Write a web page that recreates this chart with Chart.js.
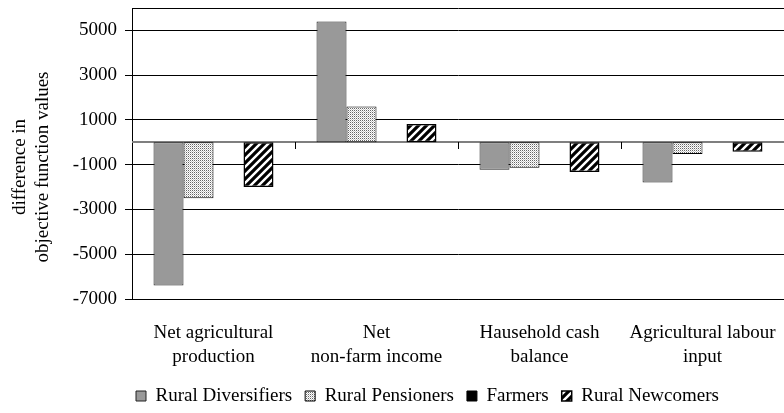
<!DOCTYPE html>
<html>
<head>
<meta charset="utf-8">
<script src="https://cdn.jsdelivr.net/npm/chart.js@4/dist/chart.umd.min.js"></script>
<style>
  html, body { margin: 0; padding: 0; background: #fff; }
  #wrap { width: 784px; height: 413px; position: relative; }
</style>
</head>
<body>
<div id="wrap"><canvas id="c" width="784" height="413"></canvas></div>
<script>
// ---- data ----
const categories = [
  ["Net agricultural", "production"],
  ["Net", "non-farm income"],
  ["Hausehold cash", "balance"],
  ["Agricultural labour", "input"]
];
const seriesNames = ["Rural Diversifiers", "Rural Pensioners", "Farmers", "Rural Newcomers"];
const ruralDiversifiers = [-6400, 5400, -1230, -1790];
const ruralPensioners   = [-2500, 1600, -1140, -520];
const farmers           = [0, 0, 0, 0];
const ruralNewcomers    = [-2000, 820, -1330, -420];
const yTicks = [-7000, -5000, -3000, -1000, 1000, 3000, 5000];
const yMin = -7000, yMax = 6000;
const yTitle = ["difference in", "objective function values"];

const FONT = "'Liberation Serif', 'Times New Roman', serif";
Chart.defaults.font.family = FONT;
Chart.defaults.font.size = 19;
Chart.defaults.color = '#000';

const canvas = document.getElementById('c');
const ctx = canvas.getContext('2d');

function dotPattern() {
  const c = document.createElement('canvas');
  c.width = 2; c.height = 2;
  const g = c.getContext('2d');
  g.fillStyle = '#ffffff'; g.fillRect(0, 0, 2, 2);
  g.fillStyle = '#666666'; g.fillRect(0, 0, 1, 1);
  g.fillStyle = '#c8c8c8'; g.fillRect(1, 1, 1, 1);
  return ctx.createPattern(c, 'repeat');
}
function stripePattern() {
  const s = 8;
  const c = document.createElement('canvas');
  c.width = s; c.height = s;
  const g = c.getContext('2d');
  g.fillStyle = '#ffffff'; g.fillRect(0, 0, s, s);
  g.strokeStyle = '#000'; g.lineWidth = 3.2;
  g.beginPath();
  g.moveTo(-s / 2, s / 2); g.lineTo(s / 2, -s / 2);
  g.moveTo(0, s); g.lineTo(s, 0);
  g.moveTo(s / 2, s * 1.5); g.lineTo(s * 1.5, s / 2);
  g.stroke();
  return ctx.createPattern(c, 'repeat');
}

const decor = {
  id: 'decor',
  afterLayout(chart) {
    const lg = chart.legend;
    if (lg && lg.lineWidths) {
      const pad = lg.options.labels.padding;
      const W = lg.lineWidths[0];
      const curX = (lg.left + pad + lg.right - W) / 2;
      const dx = 136 - curX;
      lg.left += dx; lg.right += dx;
      const h = lg.height;
      lg.top = 396 - pad - 9.5;
      lg.bottom = lg.top + h;
    }
  },
  beforeDatasetsDraw(chart) {
    const {ctx, chartArea, scales} = chart;
    const y0 = Math.round(scales.y.getPixelForValue(0));
    ctx.save();
    ctx.strokeStyle = '#7f7f7f';
    ctx.lineWidth = 2;
    ctx.beginPath();
    ctx.moveTo(chartArea.left, y0);
    ctx.lineTo(chartArea.right, y0);
    ctx.stroke();
    ctx.strokeStyle = '#000';
    ctx.lineWidth = 1;
    ctx.beginPath();
    for (let i = 0; i < categories.length - 1; i++) {
      const xb = Math.round((scales.x.getPixelForValue(i) + scales.x.getPixelForValue(i + 1)) / 2) + 0.5;
      ctx.moveTo(xb, y0);
      ctx.lineTo(xb, y0 + 7);
    }
    ctx.stroke();
    ctx.restore();
  },
  afterDraw(chart) {
    const {ctx} = chart;
    ctx.save();
    ctx.fillStyle = '#000';
    ctx.font = "19px " + FONT;
    ctx.textAlign = 'center';
    ctx.textBaseline = 'alphabetic';
    const cy = 167;
    const baselines = [25, 48];
    yTitle.forEach((t, i) => {
      ctx.save();
      ctx.translate(baselines[i], cy);
      ctx.rotate(-Math.PI / 2);
      ctx.fillText(t, 0, 0);
      ctx.restore();
    });
    ctx.restore();
  }
};

new Chart(canvas, {
  type: 'bar',
  data: {
    labels: categories,
    datasets: [
      { label: seriesNames[0], data: ruralDiversifiers, backgroundColor: '#999999', borderColor: '#222', borderWidth: 1, borderSkipped: false },
      { label: seriesNames[1], data: ruralPensioners, backgroundColor: dotPattern(), borderColor: '#000', borderWidth: 1, borderSkipped: false },
      { label: seriesNames[2], data: farmers, backgroundColor: '#000000', borderColor: '#000', borderWidth: 1, borderSkipped: false },
      { label: seriesNames[3], data: ruralNewcomers, backgroundColor: stripePattern(), borderColor: '#000', borderWidth: 1.5, borderSkipped: false }
    ]
  },
  options: {
    responsive: false,
    animation: false,
    devicePixelRatio: 1,
    layout: { padding: { top: 8, left: 0, right: 0, bottom: 0 } },
    datasets: { bar: { categoryPercentage: 0.736, barPercentage: 1.0 } },
    plugins: {
      tooltip: { enabled: false },
      legend: {
        position: 'bottom',
        labels: {
          boxWidth: 10,
          boxHeight: 10,
          padding: 13,
          color: '#000',
          font: { size: 19, family: FONT }
        }
      }
    },
    scales: {
      x: {
        grid: { display: false, drawTicks: false },
        border: { display: true, color: '#000', width: 1 },
        ticks: {
          padding: 22,
          maxRotation: 0,
          autoSkip: false,
          color: '#000',
          font: { size: 19, family: FONT, lineHeight: 1.25 }
        },
        afterFit(scale) {
          const lh = (scale.chart.legend && scale.chart.legend.height) || 0;
          scale.height = Math.max(0, 413 - 299 - lh);
          scale.paddingLeft = 0; scale.paddingRight = 0;
        }
      },
      y: {
        min: yMin,
        max: yMax,
        afterBuildTicks(scale) {
          scale.ticks = yTicks.concat([yMax]).map(v => ({ value: v }));
        },
        grid: {
          color: '#000',
          lineWidth: 1,
          drawTicks: true,
          tickLength: 7,
          tickColor: (c) => (c.tick && c.tick.value === yMax) ? 'rgba(0,0,0,0)' : '#000'
        },
        border: { display: true, color: '#000', width: 1 },
        ticks: {
          padding: 8,
          color: '#000',
          font: { size: 19, family: FONT },
          callback: (v) => (yTicks.includes(v) ? String(v) : '')
        },
        afterFit(scale) {
          scale.width = 132;
          scale.paddingTop = 0; scale.paddingBottom = 0;
        }
      }
    }
  },
  plugins: [decor]
});
</script>
</body>
</html>
